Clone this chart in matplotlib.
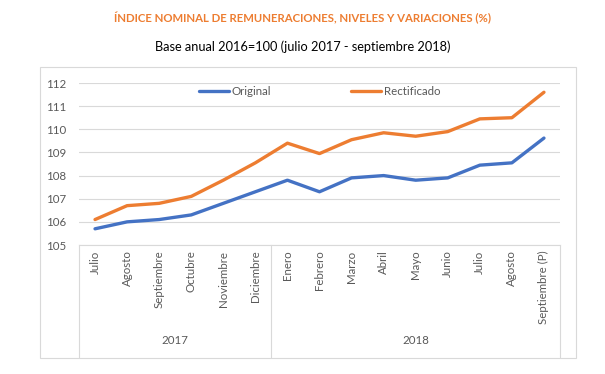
import matplotlib
matplotlib.use("Agg")
import matplotlib.pyplot as plt
from matplotlib.patches import Rectangle

# Datos
meses = ["Julio", "Agosto", "Septiembre", "Octubre", "Noviembre", "Diciembre",
         "Enero", "Febrero", "Marzo", "Abril", "Mayo", "Junio",
         "Julio", "Agosto", "Septiembre (P)"]
anios = ["2017", "2018"]
meses_por_anio = [6, 9]
original = [105.7, 106.0, 106.1, 106.3, 106.8, 107.3, 107.8, 107.3,
            107.9, 108.0, 107.8, 107.9, 108.45, 108.55, 109.62]
rectificado = [106.1, 106.7, 106.8, 107.1, 107.8, 108.55, 109.4, 108.95,
               109.55, 109.85, 109.7, 109.9, 110.45, 110.5, 111.6]

plt.rcParams['font.family'] = ['Lato', 'DejaVu Sans']

W, H = 605, 374
fig = plt.figure(figsize=(W / 100, H / 100), dpi=100)

# Borde exterior del gráfico
fig.patches.append(Rectangle((40 / W, 1 - 358 / H), 536 / W, 291 / H,
                             transform=fig.transFigure, fill=False,
                             edgecolor="#d9d9d9", linewidth=0.8))

fig.text(0.5, 1 - 18 / H, "ÍNDICE NOMINAL DE REMUNERACIONES, NIVELES Y VARIACIONES (%)",
         ha="center", va="center", color="#ED7D31", fontsize=8.2, fontweight="bold")
fig.text(0.5, 1 - 47 / H, "Base anual 2016=100 (julio 2017 - septiembre 2018)",
         ha="center", va="center", color="black", fontsize=9.2)

ax = fig.add_axes([79 / W, 1 - 245 / H, 481 / W, 162 / H])
x = list(range(len(meses)))
ax.plot(x, original, color="#4472C4", linewidth=2.4, label="Original",
        solid_capstyle="round")
ax.plot(x, rectificado, color="#ED7D31", linewidth=2.4, label="Rectificado",
        solid_capstyle="round")

ax.set_xlim(-0.5, len(meses) - 0.5)
ax.set_ylim(105, 112)
ax.set_yticks(range(105, 113))
ax.grid(axis="y", color="#d9d9d9", linewidth=0.8)
ax.set_axisbelow(True)
for s in ["top", "right", "left"]:
    ax.spines[s].set_visible(False)
ax.spines["bottom"].set_color("#d9d9d9")
ax.spines["bottom"].set_linewidth(0.8)

ax.set_xticks(x)
ax.set_xticklabels(meses, rotation=90, fontsize=8.3, color="#595959")
ax.tick_params(axis="x", length=0, pad=4)
ax.tick_params(axis="y", length=0, pad=9, labelsize=8.3, labelcolor="#595959")

# Segundo nivel del eje: años
fondo = -0.69
inicio = -0.5
ax.plot([inicio, inicio], [0, fondo], transform=ax.get_xaxis_transform(),
        color="#d9d9d9", linewidth=0.8, clip_on=False)
for anio, n in zip(anios, meses_por_anio):
    fin = inicio + n
    ax.plot([fin, fin], [0, fondo], transform=ax.get_xaxis_transform(),
            color="#d9d9d9", linewidth=0.8, clip_on=False)
    ax.text((inicio + fin) / 2, -0.59, anio, transform=ax.get_xaxis_transform(),
            ha="center", va="center", fontsize=8.3, color="#595959")
    inicio = fin

ax.legend(loc="upper center", bbox_to_anchor=(0.5, 1.045), ncol=2, frameon=False,
          fontsize=8.3, labelcolor="#595959", handlelength=2.6,
          handletextpad=0.2, columnspacing=7)

fig.savefig("out.png", dpi=100)
